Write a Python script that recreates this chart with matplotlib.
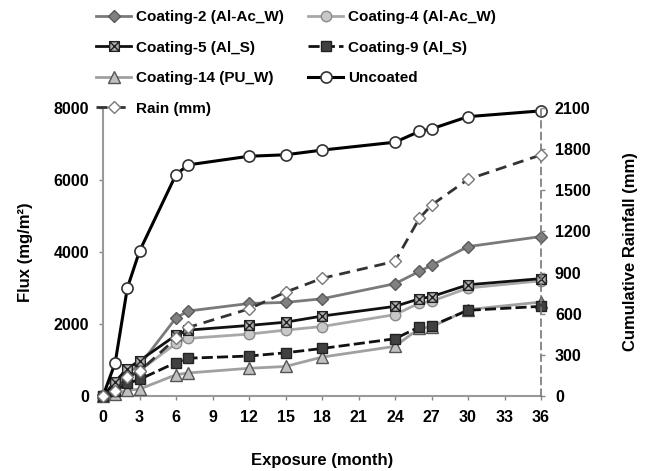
import matplotlib
matplotlib.use("Agg")
import matplotlib.pyplot as plt
from matplotlib.path import Path
import numpy as np

plt.rcParams['font.family'] = ['Liberation Sans', 'DejaVu Sans']
plt.rcParams['font.weight'] = 'bold'

months = [0, 1, 2, 3, 6, 7, 12, 15, 18, 24, 26, 27, 30, 36]
coating2 = [0, 350, 650, 850, 2170, 2360, 2570, 2600, 2700, 3120, 3460, 3630, 4150, 4430]
coating4 = [0, 250, 550, 700, 1460, 1600, 1720, 1830, 1930, 2260, 2580, 2630, 3000, 3200]
coating5 = [0, 400, 760, 980, 1690, 1830, 1960, 2050, 2220, 2490, 2700, 2760, 3090, 3260]
coating9 = [0, 150, 350, 460, 930, 1050, 1110, 1200, 1320, 1590, 1920, 1950, 2380, 2490]
coating14 = [0, 60, 160, 190, 590, 640, 770, 820, 1080, 1380, 1880, 1920, 2400, 2610]
uncoated = [0, 920, 3000, 4020, 6150, 6420, 6660, 6700, 6830, 7050, 7350, 7420, 7760, 7920]
rain = [0, 40, 135, 180, 420, 500, 635, 757, 858, 982, 1295, 1392, 1580, 1758]

xticks = list(range(0, 37, 3))
yticks_left = [0, 2000, 4000, 6000, 8000]
yticks_right = [0, 300, 600, 900, 1200, 1500, 1800, 2100]

# boxed-X marker
boxx = Path([(-1, -1), (1, -1), (1, 1), (-1, 1), (-1, -1),
             (-1, -1), (1, 1), (-1, 1), (1, -1)],
            [Path.MOVETO, Path.LINETO, Path.LINETO, Path.LINETO, Path.CLOSEPOLY,
             Path.MOVETO, Path.LINETO, Path.MOVETO, Path.LINETO])

fig = plt.figure(figsize=(6.49, 4.71), dpi=100)
ax = fig.add_axes([103/649, 75/471, 438/649, 288/471])
ax2 = ax.twinx()

common = dict(clip_on=False)
h_c2, = ax.plot(months, coating2, color='#7a7a7a', lw=2, marker='D', ms=6,
                mfc='#808080', mec='#5a5a5a', mew=1, label='Coating-2 (Al-Ac_W)', zorder=5, **common)
h_c4, = ax.plot(months, coating4, color='#a8a8a8', lw=2, marker='o', ms=7.5,
                mfc='#c8c8c8', mec='#8a8a8a', mew=1, label='Coating-4 (Al-Ac_W)', zorder=4, **common)
h_c5, = ax.plot(months, coating5, color='#111111', lw=2, marker=boxx, ms=7,
                mfc='#b0b0b0', mec='#222222', mew=1, label='Coating-5 (Al_S)', zorder=6, **common)
h_c9, = ax.plot(months, coating9, color='#111111', lw=2, ls=(0, (4, 1.5)), marker='s', ms=7,
                mfc='#404040', mec='#222222', mew=1, label='Coating-9 (Al_S)', zorder=5, **common)
h_c14, = ax.plot(months, coating14, color='#a0a0a0', lw=2, marker='^', ms=8,
                 mfc='#c0c0c0', mec='#555555', mew=1, label='Coating-14 (PU_W)', zorder=4, **common)
h_un, = ax.plot(months, uncoated, color='black', lw=2.2, marker='o', ms=8,
                mfc='white', mec='#333333', mew=1.2, label='Uncoated', zorder=7, **common)
h_rain, = ax2.plot(months, rain, color='#333333', lw=2, ls=(0, (4, 2.5)), marker='D', ms=6.5,
                   mfc='white', mec='#777777', mew=1, label='Rain (mm)', zorder=3, **common)

ax.set_xlim(0, 36)
ax.set_ylim(0, 8000)
ax2.set_ylim(0, 2100)
ax.set_xticks(xticks)
ax.set_yticks(yticks_left)
ax2.set_yticks(yticks_right)

for a in (ax, ax2):
    a.spines['top'].set_visible(False)
    a.patch.set_visible(False)
ax.spines['right'].set_visible(False)
ax2.spines['left'].set_visible(False)
ax2.spines['bottom'].set_visible(False)
ax.spines['left'].set_color('#999999')
ax.spines['left'].set_linestyle((0, (1, 1)))
ax.spines['bottom'].set_color('#999999')
ax.spines['bottom'].set_linestyle((0, (1, 1)))
ax.spines['left'].set_linewidth(1.5)
ax.spines['bottom'].set_linewidth(1.5)
ax2.spines['right'].set_color('#777777')
ax2.spines['right'].set_linestyle((0, (4, 3)))
ax2.spines['right'].set_linewidth(1.2)

ax.tick_params(axis='both', direction='out', length=3, width=1, color='#888888',
               labelsize=11.5, pad=7)
ax2.tick_params(axis='y', direction='out', length=3, width=1, color='#888888',
                labelsize=11.5, pad=7)
for lab in ax.get_xticklabels() + ax.get_yticklabels() + ax2.get_yticklabels():
    lab.set_fontweight('bold')

ax.set_xlabel('Exposure (month)', fontsize=12, fontweight='bold', labelpad=20)
ax.set_ylabel('Flux (mg/m²)', fontsize=12, fontweight='bold', labelpad=15)
ax2.set_ylabel('Cumulative Rainfall (mm)', fontsize=12, fontweight='bold',
               rotation=90, labelpad=23)

handles = [h_c2, h_c5, h_c14, h_rain, h_c4, h_c9, h_un]
fig.legend(handles=handles, labels=[h.get_label() for h in handles], ncol=2,
           loc='upper left', bbox_to_anchor=(90/649, 1 - 4/471), frameon=False,
           fontsize=11, handlelength=2.3, handletextpad=0.3, labelspacing=1.08,
           columnspacing=1.6, borderaxespad=0)

fig.savefig('out.png', dpi=100)
